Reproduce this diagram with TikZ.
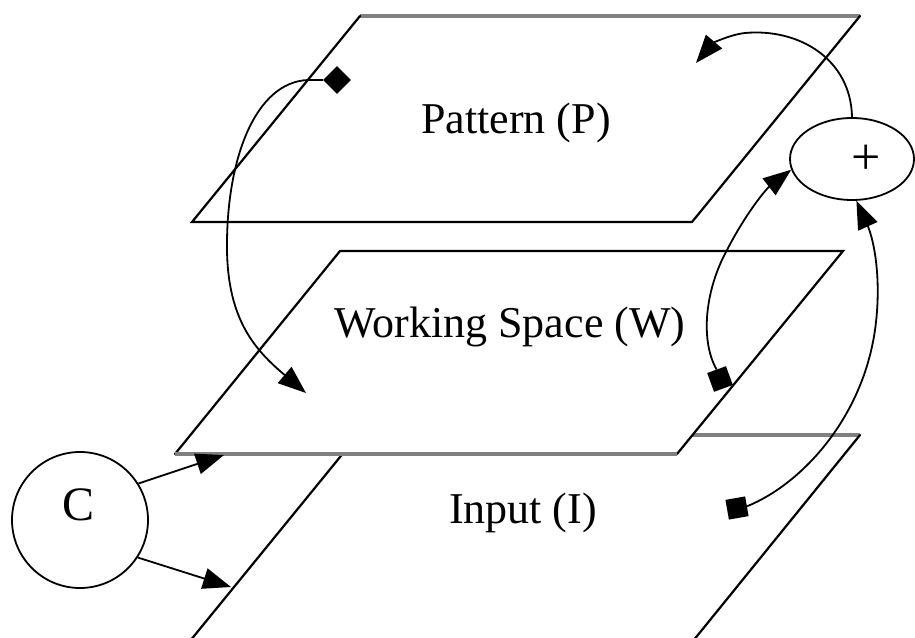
\documentclass[tikz,border=0pt]{standalone}
\usepackage{fontspec}
\setmainfont{Liberation Serif}
\usetikzlibrary{arrows.meta,shapes.geometric}
\begin{document}
\begin{tikzpicture}[x=1pt,y=-1pt,
  edgeline/.style={line width=2.2pt,black,line cap=round},
  grayline/.style={line width=3.2pt,color=black!50},
  link/.style={line width=1.8pt,black},
  tiparrow/.style={link,-{Triangle[length=28pt,width=21pt]}},
  planelabel/.style={font=\fontsize{44}{52}\selectfont,anchor=base,inner sep=0pt},
  marker/.style={fill=black,draw=none,minimum size=20pt,inner sep=0pt}]
\useasboundingbox (0,0) rectangle (915,637);
\begin{scope}
\clip (0,0) rectangle (915,637);
% corners
\coordinate (P1) at (360,16);  \coordinate (P2) at (860,16);
\coordinate (P3) at (692,222); \coordinate (P4) at (192,222);
\coordinate (W1) at (340,251); \coordinate (W2) at (843,251);
\coordinate (W3) at (677,454); \coordinate (W4) at (175,454);
\coordinate (I1) at (358,435); \coordinate (I2) at (860,435);
\coordinate (I3) at (693,641); \coordinate (I4) at (190,641);
% input plane
\fill[white] (I1)--(I2)--(I3)--(I4)--cycle;
\draw[edgeline] (I4)--(I1);
\draw[grayline] (I1)--(I2);
\draw[edgeline] (I2)--(I3)--(I4);
% working plane
\fill[white] (W1)--(W2)--(W3)--(W4)--cycle;
\draw[edgeline] (W4)--(W1)--(W2)--(W3);
\draw[grayline] (W3)--(W4);
% pattern plane
\fill[white] (P1)--(P2)--(P3)--(P4)--cycle;
\draw[grayline] (P1)--(P2);
\draw[edgeline] (P2)--(P3)--(P4)--(P1);
\end{scope}
% labels
\node[planelabel] (pat) at (516,133) {Pattern (P)};
\node[planelabel] (wrk) at (510,337) {Working Space (W)};
\node[planelabel] (inp) at (523,523) {Input (I)};
% operator nodes
\node[draw,link,circle,minimum size=136pt,inner sep=0pt] (C) at (80,520) {};
\node[planelabel,font=\fontsize{48}{56}\selectfont] (Clab) at (79,520) {C};
\node[draw,link,ellipse,minimum width=124pt,minimum height=82pt,inner sep=0pt] (plus) at (852,159) {};
\node[font=\fontsize{52}{60}\selectfont,inner sep=0pt] (plab) at (866,160) {+};
% markers
\node[marker,diamond,minimum size=28pt] (dia) at (337,80) {};
\node[marker,rotate=20] (wsq) at (720,379) {};
\node[marker,rotate=10] (isq) at (737,508) {};
% tips
\coordinate (wtip) at (306,393);
\coordinate (ptip) at (696,63);
\coordinate (cw) at (224,455);
\coordinate (ci) at (231,587);
% connectors
\draw[tiparrow] (dia.west) -- (308,80) .. controls (255,82) and (226,160) .. (227,250)
   .. controls (228,320) and (255,350) .. (wtip);
\draw[tiparrow] (plus.north) .. controls (851,60) and (800,28) .. (745,33)
   .. controls (728,35) and (712,44) .. (ptip);
\draw[tiparrow] (wsq.north) .. controls (700,340) and (705,290) .. (727,250)
   .. controls (745,215) and (765,190) .. (plus.190);
\draw[tiparrow] (isq.east) .. controls (800,485) and (862,420) .. (875,330)
   .. controls (882,280) and (874,240) .. (plus.276);
\draw[tiparrow] (C.32) -- (cw);
\draw[tiparrow] (C.-33) -- (ci);
\end{tikzpicture}
\end{document}
